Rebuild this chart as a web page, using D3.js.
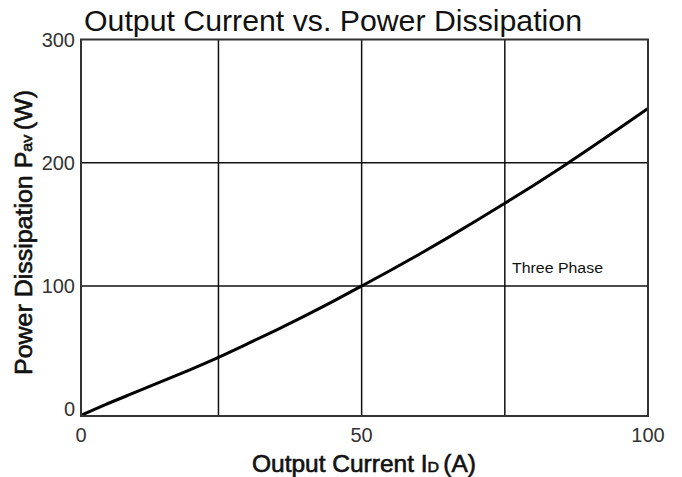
<!DOCTYPE html>
<html><head><meta charset="utf-8">
<script src="https://cdn.jsdelivr.net/npm/d3@7"></script>
<style>body{margin:0;background:#fff}svg{display:block}text{font-family:"Liberation Sans",Arial,sans-serif;fill:#111}</style>
</head><body>
<svg id="c" width="682" height="477"></svg>
<script>
const current = [1, 5, 10, 15, 20, 25, 30, 35, 40, 45, 50, 55, 60, 65, 70, 75, 80, 85, 90, 95, 100];
const power   = [-5, 3.5, 12.8, 22.4, 32, 42, 53, 64, 75.5, 87.5, 100, 112.5, 125.5, 139, 153, 167, 181.5, 196.5, 212, 228, 244];
const xTicks = [0, 50, 100];
const xGrid = [25, 50, 75];
const yTicks = [0, 100, 200, 300];
const yGrid = [100, 200];

const svg = d3.select("#c");
const L = 81, R = 648, T = 39.5, B = 416;
const x = d3.scaleLinear().domain([1, 100]).range([L, R]);
const y = d3.scaleLinear().domain([0, 300]).range([409.3, T]);

// grid
svg.append("g").selectAll("line").data(xGrid).join("line")
  .attr("x1", d => x(d)).attr("x2", d => x(d)).attr("y1", T).attr("y2", B)
  .attr("stroke", "#111").attr("stroke-width", 1.5);
svg.append("g").selectAll("line").data(yGrid).join("line")
  .attr("x1", L).attr("x2", R).attr("y1", d => y(d)).attr("y2", d => y(d))
  .attr("stroke", "#111").attr("stroke-width", 1.5);

// curve
svg.append("defs").append("clipPath").attr("id", "clip")
  .append("rect").attr("x", L).attr("y", T).attr("width", R - L).attr("height", B - T);
svg.append("path").datum(current.map((c, i) => [c, power[i]]))
  .attr("clip-path", "url(#clip)")
  .attr("d", d3.line().x(d => x(d[0])).y(d => y(d[1])).curve(d3.curveBasis))
  .attr("fill", "none").attr("stroke", "#000").attr("stroke-width", 3);

// frame
svg.append("rect").attr("x", L).attr("y", T).attr("width", R - L).attr("height", B - T)
  .attr("fill", "none").attr("stroke", "#333").attr("stroke-width", 2);

// tick labels
svg.append("g").selectAll("text").data(xTicks).join("text")
  .attr("x", d => x(Math.max(d, 1))).attr("y", 442).attr("text-anchor", "middle")
  .attr("font-size", 20).style("fill", "#333").text(d => d);
svg.append("g").selectAll("text").data(yTicks).join("text")
  .attr("x", 75).attr("y", d => y(d) + 7).attr("text-anchor", "end")
  .attr("font-size", 20).style("fill", "#333").text(d => d);

// title
svg.append("text").attr("x", 84).attr("y", 31).attr("font-size", 30)
  .attr("textLength", 498).attr("lengthAdjust", "spacingAndGlyphs")
  .text("Output Current vs. Power Dissipation");

// x label
const xl = svg.append("text").attr("x", 252).attr("y", 472)
  .attr("font-size", 23).attr("stroke", "#111").attr("stroke-width", 0.6)
  .attr("textLength", 224).attr("lengthAdjust", "spacingAndGlyphs");
xl.append("tspan").text("Output Current I");
xl.append("tspan").attr("font-size", 15).text("D");
xl.append("tspan").attr("dx", 4).text("(A)");

// y label
const yl = svg.append("text").attr("transform", "translate(32,375) rotate(-90)")
  .attr("font-size", 23).attr("stroke", "#111").attr("stroke-width", 0.6)
  .attr("textLength", 285).attr("lengthAdjust", "spacingAndGlyphs");
yl.append("tspan").text("Power Dissipation P");
yl.append("tspan").attr("font-size", 15).text("av");
yl.append("tspan").attr("dx", 4).text("(W)");

// annotation
svg.append("text").attr("x", 512).attr("y", 273).attr("font-size", 15.5)
  .attr("textLength", 91).attr("lengthAdjust", "spacingAndGlyphs").text("Three Phase");
</script>
</body></html>
